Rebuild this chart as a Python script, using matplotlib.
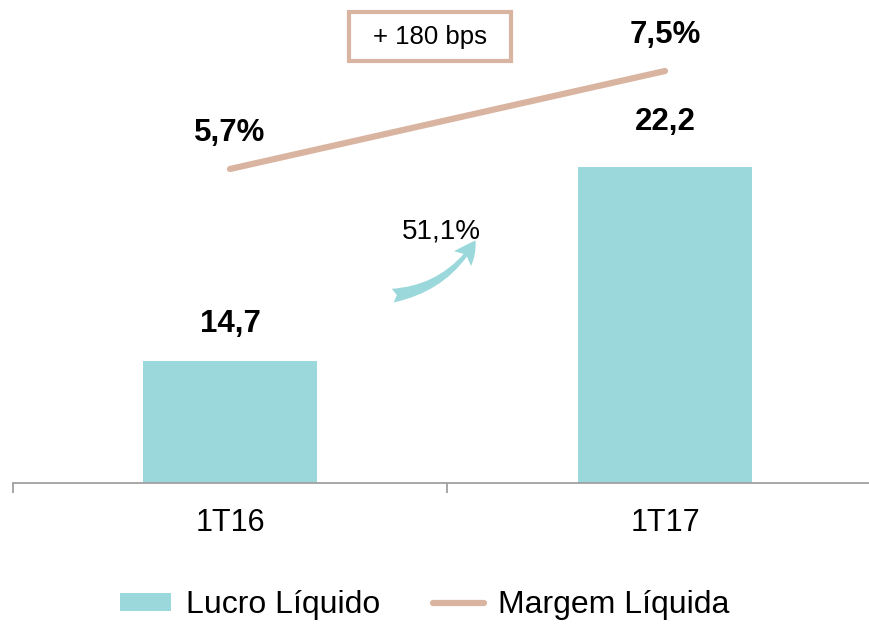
import matplotlib
matplotlib.use("Agg")
import matplotlib.pyplot as plt
from matplotlib.patches import FancyArrowPatch, Rectangle
from matplotlib.lines import Line2D
from matplotlib.patches import Patch

categories = ["1T16", "1T17"]
lucro = [14.7, 22.2]
margem = [5.7, 7.5]
lucro_labels = ["14,7", "22,2"]
margem_labels = ["5,7%", "7,5%"]
growth_label = "51,1%"
bps_label = "+ 180 bps"
legend_labels = ["Lucro Líquido", "Margem Líquida"]

BAR = "#9BD8DB"
LINE = "#D9B4A0"
AXC = "#A0A0A0"

plt.rcParams['font.family'] = ['Liberation Sans', 'DejaVu Sans']

W, H = 870, 624
fig = plt.figure(figsize=(W / 100, H / 100), dpi=100)

ax_left, ax_right = 12.5, 870.0
ax_bottom_px, ax_top_px = 483.0, 0.0
ax = fig.add_axes([ax_left / W, 1 - ax_bottom_px / H,
                   (ax_right - ax_left) / W, (ax_bottom_px - ax_top_px) / H])
x = list(range(len(categories)))
ax.bar(x, lucro, width=0.4, color=BAR, zorder=2)
ax.set_ylim(10, 10 + 483 / 25.87)

for s in ["top", "left", "right"]:
    ax.spines[s].set_visible(False)
ax.spines["bottom"].set_color(AXC)
ax.spines["bottom"].set_linewidth(1.3)
ax.set_yticks([])
ax.set_xticks(x)
ax.set_xticklabels(categories, fontsize=22)
ax.tick_params(axis="x", which="major", length=0, pad=18)
ax.set_xticks([-0.5, 0.5, 1.5], minor=True)
ax.tick_params(axis="x", which="minor", length=7, color=AXC, width=1.3)

offs = [29, 37]
for xi, v, lab, o in zip(x, lucro, lucro_labels, offs):
    ax.annotate(lab, (xi, v), xytext=(0, o * 0.72), textcoords="offset points",
                ha="center", va="baseline", fontsize=22.5, fontweight="bold")

ax2 = ax.twinx()
ax2.plot(x, margem, color=LINE, lw=4.5, solid_capstyle="round", zorder=3)
ax2.set_ylim(5.7 - 314 / 54.44, 7.5 + 71 / 54.44)
ax2.set_yticks([])
for s in ["top", "left", "right", "bottom"]:
    ax2.spines[s].set_visible(False)
for xi, v, lab in zip(x, margem, margem_labels):
    ax2.annotate(lab, (xi, v), xytext=(0, 36 * 0.72), textcoords="offset points",
                 ha="center", va="center", fontsize=22.5, fontweight="bold")
ax.set_xlim(-0.5, -0.5 + (ax_right - ax_left) / 435.0)
ax2.set_xlim(-0.5, -0.5 + (ax_right - ax_left) / 435.0)

# growth arrow
arr = FancyArrowPatch((390 / W, 1 - 296 / H), (477 / W, 1 - 238 / H),
                      transform=fig.transFigure,
                      connectionstyle="arc3,rad=0.25",
                      arrowstyle="fancy,head_length=0.9,head_width=0.9,tail_width=0.55",
                      mutation_scale=18, color=BAR, lw=0)
fig.patches.append(arr)
fig.text(402 / W, 1 - 238 / H, growth_label, fontsize=20, ha="left", va="baseline")

# bps box
fig.patches.append(Rectangle((349 / W, 1 - 61 / H), 162 / W, 49 / H,
                             transform=fig.transFigure, fill=False,
                             edgecolor=LINE, lw=3))
fig.text(430 / W, 1 - 37 / H, bps_label, fontsize=18.5, ha="center", va="center")

handles = [Patch(facecolor=BAR, edgecolor="none"),
           Line2D([0], [0], color=LINE, lw=4.5, solid_capstyle="round")]
fig.legend(handles, legend_labels, loc="center", bbox_to_anchor=(425 / W, 1 - 605 / H),
           ncol=2, frameon=False, fontsize=23, handlelength=1.6,
           handleheight=0.5, handletextpad=0.45, columnspacing=1.65, borderpad=0)

fig.savefig("out.png", dpi=100)
